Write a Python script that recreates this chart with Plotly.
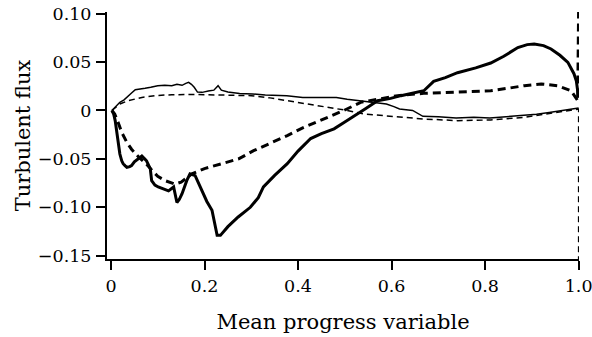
import plotly.graph_objects as go

# Mean progress variable (x) and turbulent flux (y) for the four profiles
thin_solid_c = [0.002, 0.010, 0.019, 0.028, 0.036, 0.044, 0.052, 0.062, 0.073, 0.085, 0.100, 0.115,
                0.130, 0.141, 0.152, 0.160, 0.166, 0.172, 0.178, 0.185, 0.195, 0.208, 0.220, 0.229,
                0.236, 0.250, 0.275, 0.303, 0.330, 0.376, 0.410, 0.446, 0.482, 0.505, 0.532, 0.567,
                0.589, 0.605, 0.617, 0.645, 0.667, 0.700, 0.738, 0.776, 0.810, 0.845, 0.880, 0.910,
                0.937, 0.965, 0.985, 1.000]
thin_solid_v = [0.000, 0.004, 0.0085, 0.011, 0.015, 0.018, 0.0215, 0.022, 0.023, 0.024, 0.0256, 0.026,
                0.0256, 0.027, 0.026, 0.028, 0.029, 0.027, 0.024, 0.019, 0.0187, 0.020, 0.021, 0.0256,
                0.021, 0.019, 0.0175, 0.017, 0.016, 0.0153, 0.0135, 0.0135, 0.0135, 0.0115, 0.010, 0.0084,
                0.0067, 0.004, 0.0015, 0.000, -0.006, -0.0065, -0.0077, -0.007, -0.0077, -0.0065, -0.0054, -0.004,
                -0.002, 0.000, 0.0015, 0.0026]

thin_dash_c = [0.002, 0.010, 0.019, 0.036, 0.050, 0.066, 0.094, 0.130, 0.180, 0.237, 0.300, 0.340,
               0.377, 0.410, 0.448, 0.475, 0.505, 0.540, 0.590, 0.630, 0.669, 0.741, 0.812, 0.883,
               0.930, 0.955, 0.980, 1.000, 1.000]
thin_dash_v = [0.000, 0.003, 0.0067, 0.010, 0.012, 0.0135, 0.0153, 0.0163, 0.0165, 0.016, 0.0153, 0.013,
               0.0101, 0.008, 0.005, 0.003, 0.000, -0.0036, -0.0054, -0.007, -0.0088, -0.0105, -0.0098, -0.0071,
               -0.004, -0.002, 0.000, 0.0015, -0.16]

thick_solid_c = [0.002, 0.006, 0.009, 0.012, 0.015, 0.019, 0.023, 0.026, 0.030, 0.034, 0.040, 0.044,
                 0.050, 0.058, 0.066, 0.072, 0.076, 0.084, 0.087, 0.094, 0.101, 0.112, 0.123, 0.134,
                 0.141, 0.146, 0.152, 0.162, 0.169, 0.180, 0.194, 0.205, 0.216, 0.222, 0.227, 0.234,
                 0.250, 0.272, 0.298, 0.315, 0.326, 0.350, 0.377, 0.400, 0.427, 0.450, 0.477, 0.500,
                 0.520, 0.545, 0.570, 0.598, 0.620, 0.650, 0.669, 0.690, 0.715, 0.741, 0.780, 0.812,
                 0.840, 0.870, 0.890, 0.905, 0.925, 0.941, 0.960, 0.977, 0.990, 0.995, 1.000]
thick_solid_v = [0.000, -0.004, -0.0105, -0.020, -0.028, -0.045, -0.052, -0.055, -0.057, -0.0587, -0.058, -0.057,
                 -0.053, -0.050, -0.047, -0.050, -0.052, -0.060, -0.0725, -0.077, -0.079, -0.081, -0.083, -0.079,
                 -0.095, -0.092, -0.086, -0.0725, -0.0655, -0.0673, -0.083, -0.094, -0.103, -0.118, -0.129, -0.129,
                 -0.120, -0.110, -0.100, -0.090, -0.079, -0.067, -0.055, -0.042, -0.029, -0.024, -0.019, -0.012,
                 -0.0054, 0.002, 0.0101, 0.0125, 0.0153, 0.018, 0.0204, 0.030, 0.034, 0.039, 0.044, 0.049,
                 0.056, 0.065, 0.068, 0.0686, 0.067, 0.0635, 0.057, 0.0497, 0.038, 0.0308, 0.013]

thick_dash_c = [0.002, 0.008, 0.015, 0.023, 0.034, 0.044, 0.059, 0.075, 0.090, 0.100, 0.116, 0.137,
                0.150, 0.159, 0.173, 0.200, 0.237, 0.273, 0.305, 0.340, 0.377, 0.410, 0.448, 0.475,
                0.498, 0.534, 0.570, 0.613, 0.669, 0.741, 0.812, 0.850, 0.884, 0.920, 0.955, 0.984,
                0.998, 1.000]
thick_dash_v = [0.000, -0.0036, -0.012, -0.0226, -0.033, -0.040, -0.048, -0.055, -0.063, -0.068, -0.0725, -0.076,
                -0.074, -0.0707, -0.0655, -0.060, -0.055, -0.050, -0.0415, -0.034, -0.026, -0.018, -0.0105, -0.005,
                0.000, 0.0084, 0.0119, 0.0153, 0.0177, 0.0187, 0.0204, 0.023, 0.0256, 0.0274, 0.0256, 0.0204,
                0.0101, 0.105]

x_ticks = [0, 0.2, 0.4, 0.6, 0.8, 1.0]
x_tick_text = ["0", "0.2", "0.4", "0.6", "0.8", "1.0"]
y_ticks = [0.10, 0.05, 0, -0.05, -0.10, -0.15]
y_tick_text = ["0.10", "0.05", "0", "\u22120.05", "\u22120.10", "\u22120.15"]

FONT = "DejaVu Serif"

fig = go.Figure()
fig.add_trace(go.Scatter(x=thin_solid_c, y=thin_solid_v, mode="lines",
                         line=dict(color="black", width=1.5)))
fig.add_trace(go.Scatter(x=thin_dash_c, y=thin_dash_v, mode="lines",
                         line=dict(color="black", width=1.5, dash="6px,4px")))
fig.add_trace(go.Scatter(x=thick_solid_c, y=thick_solid_v, mode="lines",
                         line=dict(color="black", width=3)))
fig.add_trace(go.Scatter(x=thick_dash_c, y=thick_dash_v, mode="lines",
                         line=dict(color="black", width=3, dash="8px,5px")))

fig.update_layout(
    width=592, height=337,
    margin=dict(l=107, r=13, t=12, b=78),
    paper_bgcolor="white", plot_bgcolor="white",
    showlegend=False,
    font=dict(family=FONT, color="black", size=17.5),
)
fig.update_xaxes(
    range=[-0.0085, 1.0008], tickvals=x_ticks, ticktext=x_tick_text,
    showline=True, linecolor="black", linewidth=2,
    ticks="outside", ticklen=9, tickwidth=2, tickcolor="black",
    showgrid=False, zeroline=False, ticklabelstandoff=1, ticklabeloverflow="allow",
    automargin=False,
    tickfont=dict(family=FONT, size=17.5),
    title=dict(text="Mean progress variable", font=dict(family=FONT, size=21), standoff=19),
)
fig.update_yaxes(
    range=[-0.1534, 0.1017], tickvals=y_ticks, ticktext=y_tick_text,
    showline=True, linecolor="black", linewidth=2,
    ticks="outside", ticklen=9, tickwidth=2, tickcolor="black",
    showgrid=False, zeroline=False, ticklabelstandoff=1,
    automargin=False,
    tickfont=dict(family=FONT, size=17.5),
    title=dict(text="Turbulent flux", font=dict(family=FONT, size=21), standoff=2),
)

fig.write_html("out.html")
